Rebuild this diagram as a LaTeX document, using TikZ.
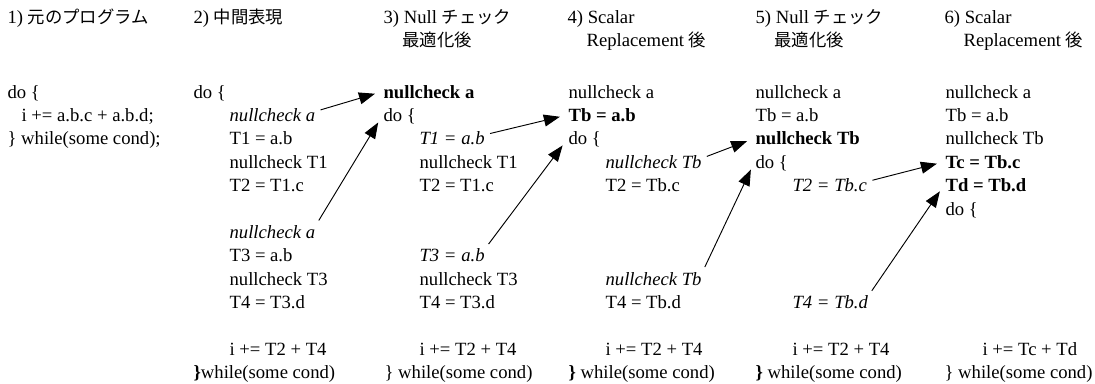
\documentclass[tikz,border=0pt]{standalone}
\usepackage{fontspec}
\setmainfont{Liberation Serif}
\newfontfamily\jp{Noto Sans CJK JP}[Scale=0.93]
\usepackage{tikz}
\usetikzlibrary{arrows.meta}

\tikzset{
  code/.style={anchor=base west, inner sep=1pt, font=\fontsize{14}{17}\selectfont},
  hot/.style={code, font=\fontsize{14}{17}\selectfont\bfseries},
  moved/.style={code, font=\fontsize{14}{17}\selectfont\itshape},
  hoist/.style={-{Triangle[length=12pt,width=9pt]}, line width=0.7pt, shorten >=5.5pt, shorten <=3pt}
}

\begin{document}
\begin{tikzpicture}[x=0.75pt, y=-0.75pt]
  \useasboundingbox (0,0) rectangle (1095,383);
  % Headings of the six stages
  \path (6,23) node[code] (t1) {1) \jp 元のプログラム};
  \path (192,23) node[code] (t2) {2) \jp 中間表現};
  \path (382,23) node[code] (t3) {3) Null \jp チェック};
  \path (401,46) node[code] (t3b) {\jp 最適化後};
  \path (566,23) node[code] (t4) {4) Scalar};
  \path (585,46) node[code] (t4b) {Replacement \jp 後};
  \path (754,23) node[code] (t5) {5) Null \jp チェック};
  \path (773,46) node[code] (t5b) {\jp 最適化後};
  \path (943,23) node[code] (t6) {6) Scalar};
  \path (962,46) node[code] (t6b) {Replacement \jp 後};
  % 1) source loop
  \path (6,98) node[code] (a0) {do \{};
  \path (20,121.4) node[code] (a1) {i += a.b.c + a.b.d;};
  \path (6,144.8) node[code] (a2) {\} while(some cond);};
  % 2) intermediate form
  \path (192,98) node[code] (b0) {do \{};
  \path (228,121.4) node[moved] (b1) {nullcheck a};
  \path (228,144.8) node[code] (b2) {T1 = a.b};
  \path (228,168.2) node[code] (b3) {nullcheck T1};
  \path (228,191.6) node[code] (b4) {T2 = T1.c};
  \path (228,238.4) node[moved] (b6) {nullcheck a};
  \path (228,261.8) node[code] (b7) {T3 = a.b};
  \path (228,285.2) node[code] (b8) {nullcheck T3};
  \path (228,308.6) node[code] (b9) {T4 = T3.d};
  \path (228,355.4) node[code] (b11) {i += T2 + T4};
  \path (192,378.8) node[code] (b12) {\textbf{\}}while(some cond)};
  % 3) null check hoisted
  \path (382,98) node[hot] (c0) {nullcheck a};
  \path (382,121.4) node[code] (c1) {do \{};
  \path (418,144.8) node[moved] (c2) {T1 = a.b};
  \path (418,168.2) node[code] (c3) {nullcheck T1};
  \path (418,191.6) node[code] (c4) {T2 = T1.c};
  \path (418,261.8) node[moved] (c7) {T3 = a.b};
  \path (418,285.2) node[code] (c8) {nullcheck T3};
  \path (418,308.6) node[code] (c9) {T4 = T3.d};
  \path (418,355.4) node[code] (c11) {i += T2 + T4};
  \path (383,378.8) node[code] (c12) {\} while(some cond)};
  % 4) scalar replacement of a.b
  \path (567,98) node[code] (d0) {nullcheck a};
  \path (567,121.4) node[hot] (d1) {Tb = a.b};
  \path (567,144.8) node[code] (d2) {do \{};
  \path (604,168.2) node[moved] (d3) {nullcheck Tb};
  \path (604,191.6) node[code] (d4) {T2 = Tb.c};
  \path (604,285.2) node[moved] (d8) {nullcheck Tb};
  \path (604,308.6) node[code] (d9) {T4 = Tb.d};
  \path (604,355.4) node[code] (d11) {i += T2 + T4};
  \path (567,378.8) node[code] (d12) {\textbf{\}} while(some cond)};
  % 5) null check hoisted again
  \path (754,98) node[code] (e0) {nullcheck a};
  \path (754,121.4) node[code] (e1) {Tb = a.b};
  \path (754,144.8) node[hot] (e2) {nullcheck Tb};
  \path (754,168.2) node[code] (e3) {do \{};
  \path (791,191.6) node[moved] (e4) {T2 = Tb.c};
  \path (791,308.6) node[moved] (e9) {T4 = Tb.d};
  \path (791,355.4) node[code] (e11) {i += T2 + T4};
  \path (754,378.8) node[code] (e12) {\textbf{\}} while(some cond)};
  % 6) scalar replacement of Tb.c and Tb.d
  \path (944,98) node[code] (f0) {nullcheck a};
  \path (944,121.4) node[code] (f1) {Tb = a.b};
  \path (944,144.8) node[code] (f2) {nullcheck Tb};
  \path (944,168.2) node[hot] (f3) {Tc = Tb.c};
  \path (944,191.6) node[hot] (f4) {Td = Tb.d};
  \path (944,215) node[code] (f5) {do \{};
  \path (981,355.4) node[code] (f11) {i += Tc + Td};
  \path (943,378.8) node[code] (f12) {\} while(some cond)};
  % Moves out of the loop
  \draw[hoist] ([yshift=3pt]b1.east) -- (c0.west);
  \draw[hoist] (b6.north east) -- (c1.west);
  \draw[hoist] ([yshift=3pt]c2.east) -- (d1.west);
  \draw[hoist] (c7.north east) -- (d2.west);
  \draw[hoist] ([yshift=3pt]d3.east) -- (e2.west);
  \draw[hoist] (d8.north east) -- (e3.west);
  \draw[hoist] ([yshift=3pt]e4.east) -- (f3.west);
  \draw[hoist] (e9.north east) -- (f4.west);
\end{tikzpicture}
\end{document}
